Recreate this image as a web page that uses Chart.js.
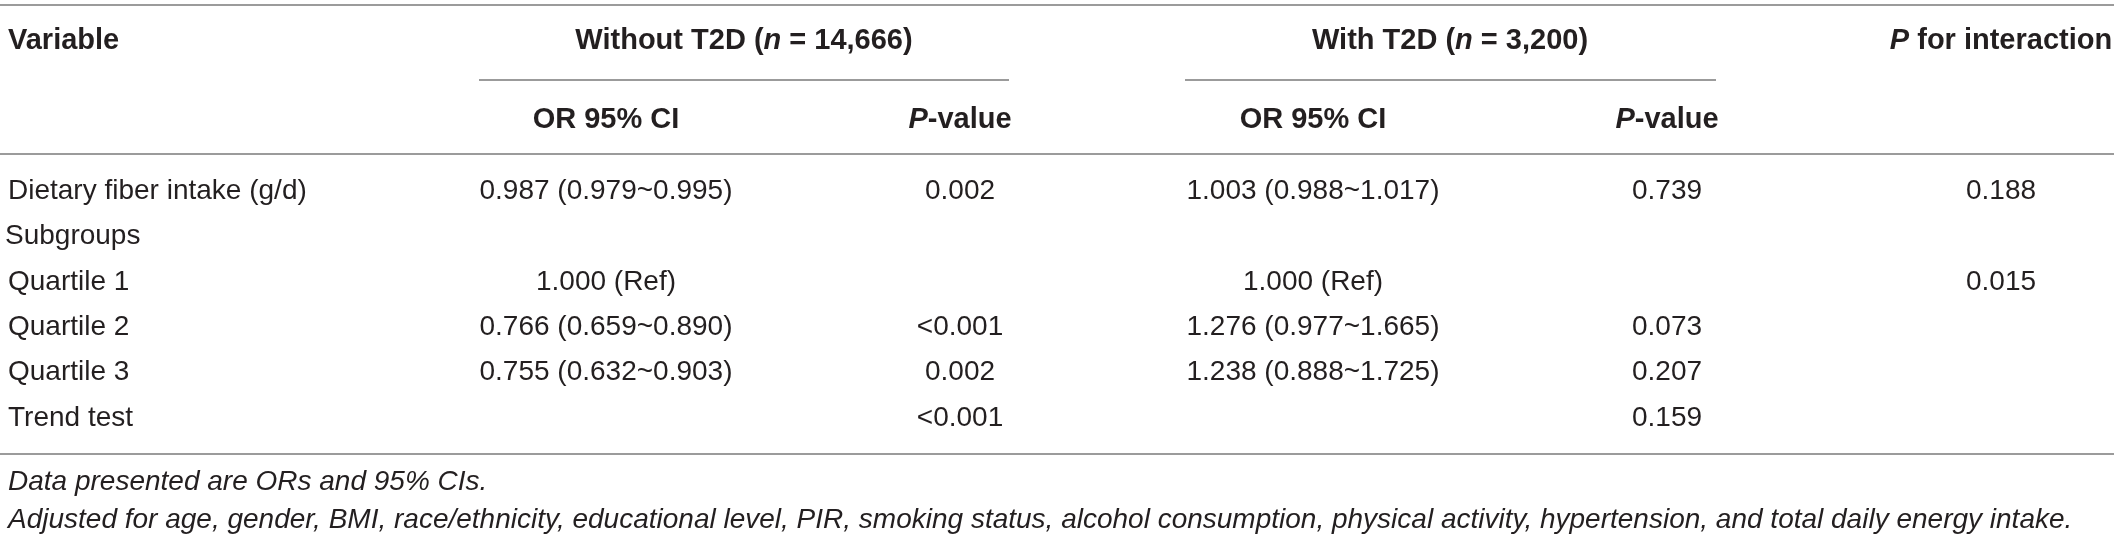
<!DOCTYPE html>
<html lang="en">
<head>
<meta charset="UTF-8">
<title>Dietary fiber intake and depression by T2D status</title>
<script src="https://cdn.jsdelivr.net/npm/chart.js"></script>
<style>
  html, body { margin: 0; padding: 0; background: #fff; }
</style>
</head>
<body>
<canvas id="tbl" width="2120" height="540"></canvas>
<script>
// ---- table content ----
const rowLabels = ['Dietary fiber intake (g/d)', 'Subgroups', 'Quartile 1', 'Quartile 2', 'Quartile 3', 'Trend test'];
const orWithout = ['0.987 (0.979~0.995)', '', '1.000 (Ref)', '0.766 (0.659~0.890)', '0.755 (0.632~0.903)', ''];
const pWithout = ['0.002', '', '', '<0.001', '0.002', '<0.001'];
const orWith = ['1.003 (0.988~1.017)', '', '1.000 (Ref)', '1.276 (0.977~1.665)', '1.238 (0.888~1.725)', ''];
const pWith = ['0.739', '', '', '0.073', '0.207', '0.159'];
const pInteraction = ['0.188', '', '0.015', '', '', ''];

// header pieces: [text, italic]
const groupHeaders = [
  [['Variable', false]],
  [['Without T2D (', false], ['n', true], [' = 14,666)', false]],
  [['With T2D (', false], ['n', true], [' = 3,200)', false]],
  [['P', true], [' for interaction', false]]
];
const subHeaders = [
  [['OR 95% CI', false]],
  [['P', true], ['-value', false]],
  [['OR 95% CI', false]],
  [['P', true], ['-value', false]]
];
const footnotes = [
  'Data presented are ORs and 95% CIs.',
  'Adjusted for age, gender, BMI, race/ethnicity, educational level, PIR, smoking status, alcohol consumption, physical activity, hypertension, and total daily energy intake.'
];

// ---- layout (x in px units on the x scale, y in row units on the y scale) ----
const colX = [8, 606, 960, 1313, 1667, 2001];
const labelX = [8, 5, 8, 8, 8, 8];
const groupX = [8, 744, 1450, 2001];
const subX = [606, 960, 1313, 1667];
const spans = [[479, 1009], [1185, 1716]];
const yHead1 = -3.30, yHead2 = -1.56;
const rules = { top: -4.10, span: -2.445, head: -0.815, bottom: 5.79 };
const yFoot = [6.41, 7.25];
const FONT = '"Liberation Sans", Arial, Helvetica, sans-serif';
const INK = '#231f20';
const RULE = '#9b9b9b';

const columns = [rowLabels, orWithout, pWithout, orWith, pWith, pInteraction];
const cells = [];
columns.forEach((col, c) => {
  col.forEach((txt, r) => {
    if (txt) cells.push({ x: c === 0 ? labelX[r] : colX[c], y: r, text: txt, left: c === 0 });
  });
});

function drawRich(ctx, parts, x, y, align, size) {
  const fonts = parts.map(p => (p[1] ? 'italic ' : '') + 'bold ' + size + 'px ' + FONT);
  let total = 0;
  parts.forEach((p, i) => { ctx.font = fonts[i]; total += ctx.measureText(p[0]).width; });
  let cx = align === 'left' ? x : x - total / 2;
  ctx.textAlign = 'left';
  parts.forEach((p, i) => {
    ctx.font = fonts[i];
    ctx.fillText(p[0], cx, y);
    cx += ctx.measureText(p[0]).width;
  });
}

const tablePlugin = {
  id: 'tableText',
  afterDatasetsDraw(chart) {
    const ctx = chart.ctx;
    const xs = chart.scales.x, ys = chart.scales.y;
    const x0 = xs.getPixelForValue(0), x1 = xs.getPixelForValue(2114);
    ctx.save();
    // rules
    ctx.strokeStyle = RULE;
    ctx.lineWidth = 2;
    [rules.top, rules.head, rules.bottom].forEach(v => {
      const py = Math.round(ys.getPixelForValue(v));
      ctx.beginPath(); ctx.moveTo(x0, py); ctx.lineTo(x1, py); ctx.stroke();
    });
    spans.forEach(s => {
      const py = Math.round(ys.getPixelForValue(rules.span));
      ctx.beginPath();
      ctx.moveTo(xs.getPixelForValue(s[0]), py);
      ctx.lineTo(xs.getPixelForValue(s[1]), py);
      ctx.stroke();
    });
    ctx.fillStyle = INK;
    ctx.textBaseline = 'middle';
    // headers
    groupHeaders.forEach((h, i) => {
      drawRich(ctx, h, xs.getPixelForValue(groupX[i]), ys.getPixelForValue(yHead1), i === 0 ? 'left' : 'center', 29);
    });
    subHeaders.forEach((h, i) => {
      drawRich(ctx, h, xs.getPixelForValue(subX[i]), ys.getPixelForValue(yHead2), 'center', 29);
    });
    // body cells from the dataset elements
    const meta = chart.getDatasetMeta(0);
    ctx.font = '28px ' + FONT;
    meta.data.forEach((el, i) => {
      const cell = chart.data.datasets[0].data[i];
      ctx.textAlign = cell.left ? 'left' : 'center';
      ctx.fillText(cell.text, el.x, el.y);
    });
    // footnotes
    ctx.font = 'italic 28px ' + FONT;
    ctx.textAlign = 'left';
    footnotes.forEach((f, i) => ctx.fillText(f, xs.getPixelForValue(8), ys.getPixelForValue(yFoot[i])));
    ctx.restore();
  }
};

new Chart(document.getElementById('tbl').getContext('2d'), {
  type: 'scatter',
  data: { datasets: [{ data: cells, pointRadius: 0, pointHoverRadius: 0 }] },
  options: {
    responsive: false,
    animation: false,
    devicePixelRatio: 1,
    layout: { padding: 0 },
    plugins: { legend: { display: false }, tooltip: { enabled: false } },
    events: [],
    scales: {
      x: { type: 'linear', min: 0, max: 2120, display: false },
      y: { type: 'linear', min: -4.207, max: 7.687, reverse: true, display: false }
    }
  },
  plugins: [tablePlugin]
});
</script>
</body>
</html>
